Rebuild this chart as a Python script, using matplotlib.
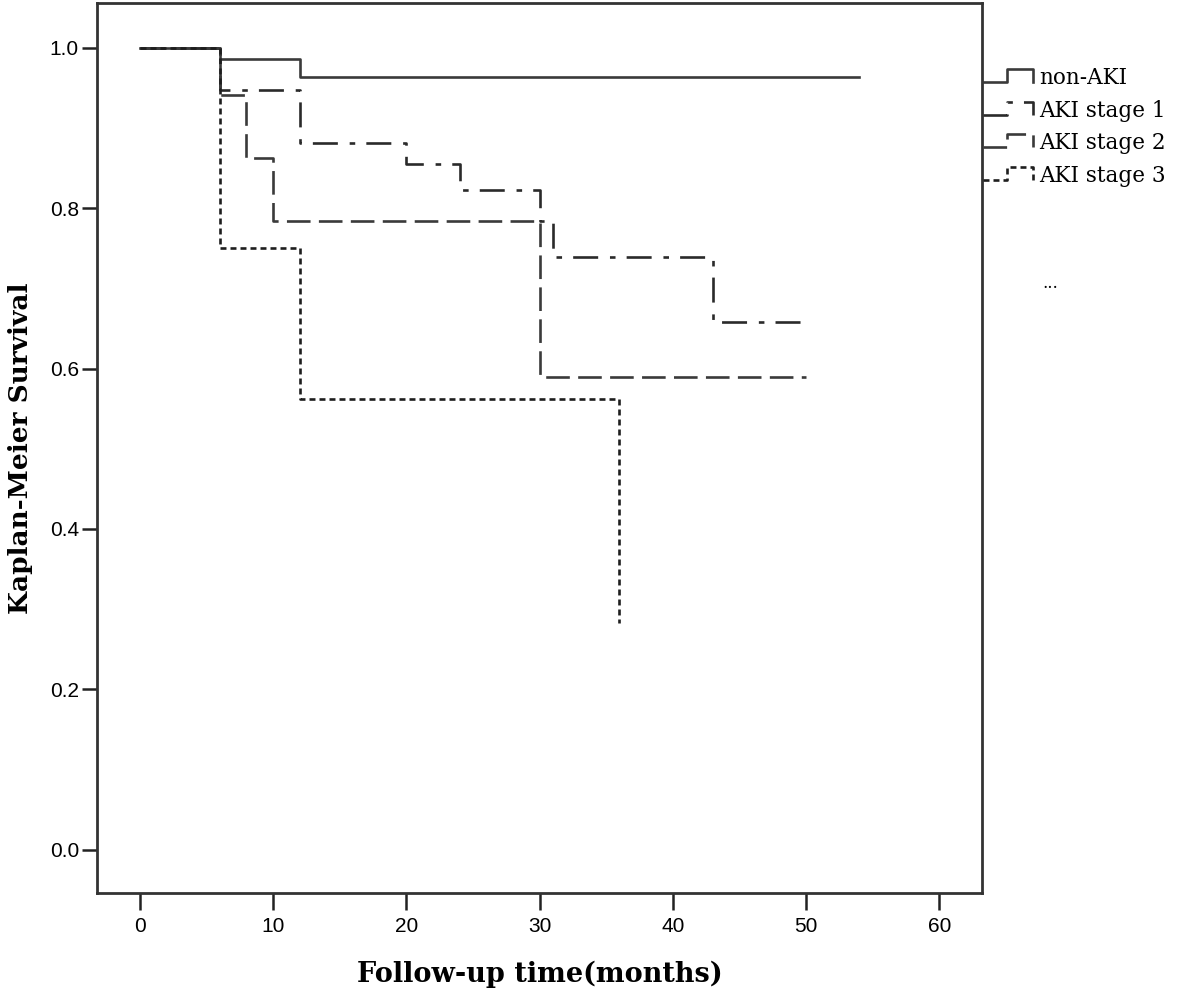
import numpy as np
import matplotlib
matplotlib.use("Agg")
import matplotlib.pyplot as plt
from matplotlib.lines import Line2D

# Kaplan-Meier step data (time in months, survival after each step)
groups = ["non-AKI", "AKI stage 1", "AKI stage 2", "AKI stage 3"]
t_non = [0, 6, 12, 54]
s_non = [1.0, 0.986, 0.964, 0.964]
t_s1 = [0, 6, 12, 20, 24, 30, 31, 43, 50]
s_s1 = [1.0, 0.947, 0.881, 0.855, 0.823, 0.784, 0.739, 0.658, 0.658]
t_s2 = [0, 6, 8, 10, 30, 50]
s_s2 = [1.0, 0.941, 0.863, 0.784, 0.589, 0.589]
t_s3 = [0, 6, 12, 36]
s_s3 = [1.0, 0.75, 0.562, 0.283]
xticks = [0, 10, 20, 30, 40, 50, 60]
yticks = [0.0, 0.2, 0.4, 0.6, 0.8, 1.0]

plt.rcParams["lines.scale_dashes"] = False
W, H = 1181, 994
fig = plt.figure(figsize=(W / 100, H / 100), dpi=100)
ax = fig.add_axes([97 / W, 1 - 893 / H, (982 - 97) / W, (893 - 3) / H])

styles = [
    dict(color="#3a3a3a", ls="-"),
    dict(color="#2a2a2a", ls=(0, (18, 8.5, 4, 8))),
    dict(color="#3a3a3a", ls=(0, (17, 6))),
    dict(color="#1e1e1e", ls=(0, (4.3, 2.9))),
]
series = [(t_non, s_non), (t_s1, s_s1), (t_s2, s_s2), (t_s3, s_s3)]
for (t, s), st in zip(series, styles):
    ax.step(t, s, where="post", lw=1.9, **st)

ax.set_xlim(-3.2, 63.2)
ax.set_ylim(-0.054, 1.056)
ax.set_xticks(xticks)
ax.set_xticklabels([str(v) for v in xticks], family="Liberation Sans", fontsize=15)
ax.set_yticks(yticks)
ax.set_yticklabels([f"{v:.1f}" for v in yticks], family="Liberation Sans", fontsize=15)
ax.tick_params(axis="x", direction="out", length=12, width=1.8, pad=5, color="#222222")
ax.tick_params(axis="y", direction="out", length=11, width=1.8, pad=2, color="#222222")
for sp in ax.spines.values():
    sp.set_linewidth(2.0)
    sp.set_color("#333333")

ax.set_xlabel("Follow-up time(months)", family="DejaVu Serif", fontweight="bold",
              fontsize=19.5, labelpad=18)
ax.set_ylabel("Kaplan-Meier Survival", family="DejaVu Serif", fontweight="bold",
              fontsize=19, labelpad=12)

# legend with step glyphs outside the plot, right side
def fx(px):
    return px / W

def fy(py):
    return 1 - py / H

low = [82, 115, 147, 180]
for name, st, yl in zip(groups, styles, low):
    xs = [fx(983), fx(1007), fx(1007), fx(1033), fx(1033)]
    ys = [fy(yl), fy(yl), fy(yl - 13), fy(yl - 13), fy(yl)]
    fig.add_artist(Line2D(xs, ys, lw=1.9, **st))
    fig.text(fx(1039), fy(yl - 4), name, family="DejaVu Serif", fontsize=15.5,
             va="center", ha="left")
fig.text(fx(1042), fy(283), "...", family="DejaVu Serif", fontsize=12,
         va="center", ha="left")

fig.savefig("out.png", dpi=100)
